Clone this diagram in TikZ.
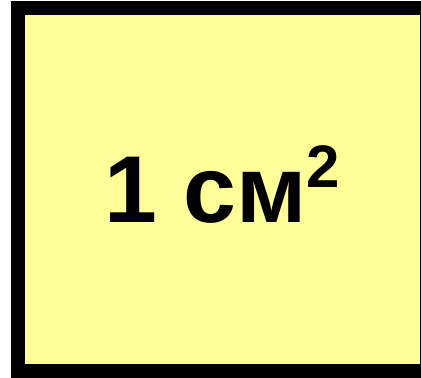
\documentclass[tikz,border=0pt]{standalone}
\usepackage{fontspec}
\setmainfont{Liberation Sans}
\definecolor{pale}{RGB}{255,255,153}
\tikzset{frame/.style={fill=black, draw=none}, face/.style={fill=pale, draw=none}}
\begin{document}
\begin{tikzpicture}[x=1pt,y=1pt]
\useasboundingbox (0,0) rectangle (421,378);
\fill[white] (0,0) rectangle (421,378);
\path[frame] (11,0) rectangle (421,377);
\path[face] (25,14) rectangle (420,363);
\node[anchor=base west, inner sep=0] (t) at (104,155)
  {\fontsize{95}{95}\selectfont\bfseries 1 см\raisebox{35pt}{\fontsize{60}{60}\selectfont 2}};
\end{tikzpicture}
\end{document}
